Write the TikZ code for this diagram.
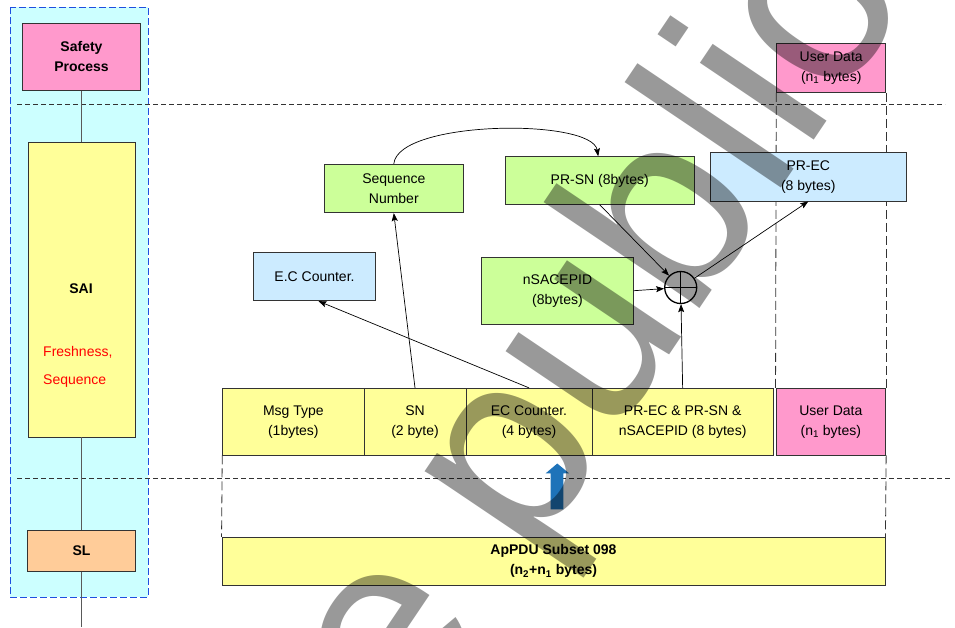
\documentclass[tikz,border=0pt]{standalone}
\usepackage{fontspec}
\setmainfont{Liberation Sans}
\newfontfamily\wmfont{Liberation Sans}
\usetikzlibrary{arrows.meta}

\definecolor{sppink}{HTML}{FF99CC}
\definecolor{spyellow}{HTML}{FFFF99}
\definecolor{spgreen}{HTML}{CCFF99}
\definecolor{spblue}{HTML}{CCEBFF}
\definecolor{spcyan}{HTML}{CCFFFF}
\definecolor{sporange}{HTML}{FFCC99}
\definecolor{frameblue}{HTML}{1F4FE0}
\definecolor{liftblue}{HTML}{1E73B9}
\definecolor{edge}{HTML}{333333}

\tikzset{
  box/.style={draw=edge, line width=0.9pt, inner sep=0pt, align=center,
    font=\fontsize{14}{20}\selectfont},
  boldbox/.style={box, font=\bfseries\fontsize{14}{20}\selectfont},
  sepline/.style={draw=edge, line width=0.8pt, dash pattern=on 5pt off 3pt},
  colline/.style={draw=edge, line width=0.8pt, dash pattern=on 9pt off 4pt},
  stackline/.style={draw=black!65, line width=1pt},
  arr/.style={draw=black, line width=0.7pt, -{Stealth[length=8pt,width=6pt,inset=1.5pt]}},
}

\begin{document}
\begin{tikzpicture}[x=1pt, y=-1pt]
\useasboundingbox (0,0) rectangle (955,627);

% safety stack panel
\draw[frameblue, fill=spcyan, line width=0.9pt, dash pattern=on 7pt off 3pt]
  (10,7) rectangle (148,597);

% layer separators
\coordinate (sepAl) at (17,104);  \coordinate (sepAr) at (945,104);
\coordinate (sepBl) at (17,478);  \coordinate (sepBr) at (952,478);
\draw[sepline] (sepAl) -- (sepAr);
\draw[sepline] (sepBl) -- (sepBr);

% stack boxes
\node[boldbox, fill=sppink, minimum width=118pt, minimum height=67pt] (safety) at (81.5,56.7) {Safety\\Process};
\node[box, fill=spyellow, minimum width=107pt, minimum height=295pt] (sai) at (81.5,289.5) {};
\node[boldbox, fill=sporange, minimum width=108pt, minimum height=41pt] (sl) at (81.5,551) {SL};
\coordinate (stackend) at (81.5,627);
\draw[stackline] (safety.south) -- (sai.north);
\draw[stackline] (sai.south) -- (sl.north);
\draw[stackline] (sl.south) -- (stackend);

\node[font=\bfseries\fontsize{14}{20}\selectfont] (sailabel) at (81,289) {SAI};
\node[font=\fontsize{14}{20}\selectfont, text=red, anchor=west, inner sep=0pt] (fresh) at (43,352) {Freshness,};
\node[font=\fontsize{14}{20}\selectfont, text=red, anchor=west, inner sep=0pt] (seqtxt) at (43,381) {Sequence};

% message fields
\node[box, fill=sppink, minimum width=109pt, minimum height=49pt] (udtop) at (831.2,67.8) {User Data\\(n\textsubscript{1} bytes)};
\node[box, fill=spyellow, minimum width=141.3pt, minimum height=66.7pt] (msg) at (293.35,421.65) {Msg Type\\(1bytes)};
\node[box, fill=spyellow, minimum width=102pt, minimum height=66.7pt] (sn) at (415,421.65) {SN\\(2 byte)};
\node[box, fill=spyellow, minimum width=126pt, minimum height=66.7pt] (ecc) at (529,421.65) {EC Counter.\\(4 bytes)};
\node[box, fill=spyellow, minimum width=181.3pt, minimum height=66.7pt] (prx) at (682.65,421.65) {PR-EC \& PR-SN \&\\nSACEPID (8 bytes)};
\node[box, fill=sppink, minimum width=109.7pt, minimum height=66.7pt] (udrow) at (830.85,421.65) {User Data\\(n\textsubscript{1} bytes)};
\node[boldbox, fill=spyellow, minimum width=663pt, minimum height=48pt] (apdu) at (553.5,561.3) {ApPDU Subset 098\\(n\textsubscript{2}+n\textsubscript{1} bytes)};

% column guides
\draw[colline] (udtop.south west) -- (udrow.north west);
\draw[colline] (udtop.south east) -- (udrow.north east);
\draw[colline] (msg.south west) -- (apdu.north west);
\draw[colline] (udrow.south east) -- (apdu.north east);

% derived values
\node[box, fill=spgreen, minimum width=139pt, minimum height=48.4pt] (seq) at (393.8,188.5) {Sequence\\Number};
\node[box, fill=spgreen, minimum width=189.3pt, minimum height=47.6pt] (prsn) at (599.7,180.5) {PR-SN (8bytes)};
\node[box, fill=spblue, minimum width=122.4pt, minimum height=48.4pt] (ecbox) at (314.5,276.5) {E.C Counter.};
\node[box, fill=spgreen, minimum width=151.6pt, minimum height=66.7pt] (nsac) at (557.5,290.7) {nSACEPID\\(8bytes)};
\node[box, fill=spblue, minimum width=196.7pt, minimum height=48.3pt] (prec) at (808.3,176.8) {PR-EC\\(8 bytes)};

% xor
\node[circle, draw=black, line width=1.3pt, fill=white, minimum size=32pt, inner sep=0pt] (xor) at (680.7,287.5) {};
\draw[black, line width=1.3pt] (xor.north) -- (xor.south) (xor.west) -- (xor.east);

% connectors
\draw[arr] (sn.north) -- (seq.south);
\draw[arr] (ecc.north) -- ([xshift=4pt]ecbox.south);
\draw[arr] (seq.north) .. controls (398,120) and (592,118) .. ([xshift=-1.5pt]prsn.north);
\draw[arr] (prsn.south) -- (xor);
\draw[arr] (nsac.east) -- (xor);
\draw[arr] (prx.north) -- (xor);
\draw[arr] (xor) -- (prec.south);

% upward block arrow
\fill[liftblue] (550.7,509.3) -- (550.7,473.3) -- (545.7,473.3) -- (557.3,463.5)
  -- (569,473.3) -- (563.3,473.3) -- (563.3,509.3) -- cycle;

% watermark
\begin{scope}
\clip (0,0) rectangle (955,627);
\node[text=black, text opacity=0.4, rotate=56, anchor=base west, inner sep=0pt,
  font=\wmfont\fontsize{260}{260}\selectfont] (wm) at (408,742) {e public};
\end{scope}
\end{tikzpicture}
\end{document}
